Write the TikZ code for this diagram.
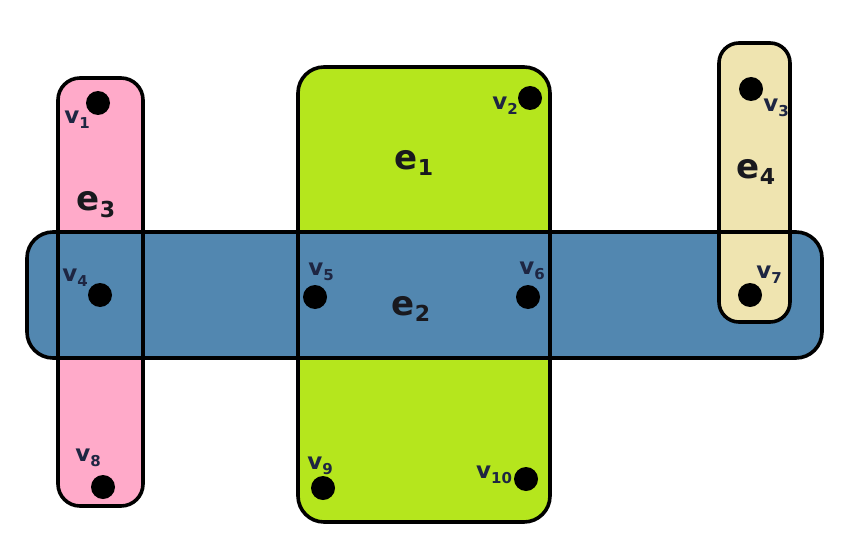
\documentclass[tikz,border=0pt]{standalone}
\usepackage{fontspec}
\setmainfont{DejaVu Sans}
\usepackage{xcolor}
\usetikzlibrary{positioning}

\definecolor{rosefill}{RGB}{255,170,201}
\definecolor{limefill}{RGB}{181,230,29}
\definecolor{steelfill}{RGB}{82,135,176}
\definecolor{tanfill}{RGB}{239,228,176}
\definecolor{vtxtext}{RGB}{30,38,66}
\definecolor{edgetext}{RGB}{25,25,30}

\newcommand{\vname}[1]{\fontsize{23}{23}\selectfont\bfseries v\raisebox{-0.2em}{\fontsize{15}{15}\selectfont #1}}
\newcommand{\ename}[1]{\fontsize{34}{34}\selectfont\bfseries e\raisebox{-0.2em}{\fontsize{22}{22}\selectfont #1}}

\begin{document}
\begin{tikzpicture}[
    x=1pt, y=-1pt,
    hedge/.style={inner sep=0pt, outer sep=0pt},
    outline/.style={draw=black, line width=3.6pt},
    vdot/.style={circle, fill=black, minimum size=24pt, inner sep=0pt},
    vlabel/.style={text=vtxtext, inner sep=0pt},
    elabel/.style={text=edgetext, inner sep=0pt}
]
\useasboundingbox (0,0) rectangle (858,556);

% Hyperedges (fills, back to front)
\node[hedge, fill=rosefill, rounded corners=22pt, minimum width=85pt, minimum height=428pt] (e3) at (100.5,292) {};
\node[hedge, fill=limefill, rounded corners=26pt, minimum width=252pt, minimum height=455pt] (e1) at (424,294.5) {};
\node[hedge, fill=steelfill, rounded corners=26pt, minimum width=795pt, minimum height=126pt] (e2) at (424.5,295) {};
\node[hedge, fill=tanfill, rounded corners=20pt, minimum width=71pt, minimum height=279pt] (e4) at (754.5,182.5) {};

% Outlines on top
\draw[outline, rounded corners=22pt] (e3.south west) rectangle (e3.north east);
\draw[outline, rounded corners=26pt] (e1.south west) rectangle (e1.north east);
\draw[outline, rounded corners=26pt] (e2.south west) rectangle (e2.north east);
\draw[outline, rounded corners=20pt] (e4.south west) rectangle (e4.north east);

% Vertices
\node[vdot] (v1) at (98,103) {};
\node[vdot] (v2) at (530,98) {};
\node[vdot] (v3) at (751,89) {};
\node[vdot] (v4) at (100,295) {};
\node[vdot] (v5) at (315,297) {};
\node[vdot] (v6) at (528,297) {};
\node[vdot] (v7) at (750,295) {};
\node[vdot] (v8) at (103,487) {};
\node[vdot] (v9) at (323,488) {};
\node[vdot] (v10) at (526,479) {};

% Vertex labels
\node[vlabel] (l1) at (77,120) {\vname{1}};
\node[vlabel] (l2) at (505,106) {\vname{2}};
\node[vlabel] (l3) at (776,108) {\vname{3}};
\node[vlabel] (l4) at (75,278) {\vname{4}};
\node[vlabel] (l5) at (321,272) {\vname{5}};
\node[vlabel] (l6) at (532,271) {\vname{6}};
\node[vlabel] (l7) at (769,275) {\vname{7}};
\node[vlabel] (l8) at (88,458) {\vname{8}};
\node[vlabel] (l9) at (320,466) {\vname{9}};
\node[vlabel] (l10) at (494,475) {\vname{10}};

% Hyperedge labels
\node[elabel] (t1) at (414,163) {\ename{1}};
\node[elabel] (t2) at (411,309) {\ename{2}};
\node[elabel] (t3) at (96,205) {\ename{3}};
\node[elabel] (t4) at (756,172) {\ename{4}};

\end{tikzpicture}
\end{document}
